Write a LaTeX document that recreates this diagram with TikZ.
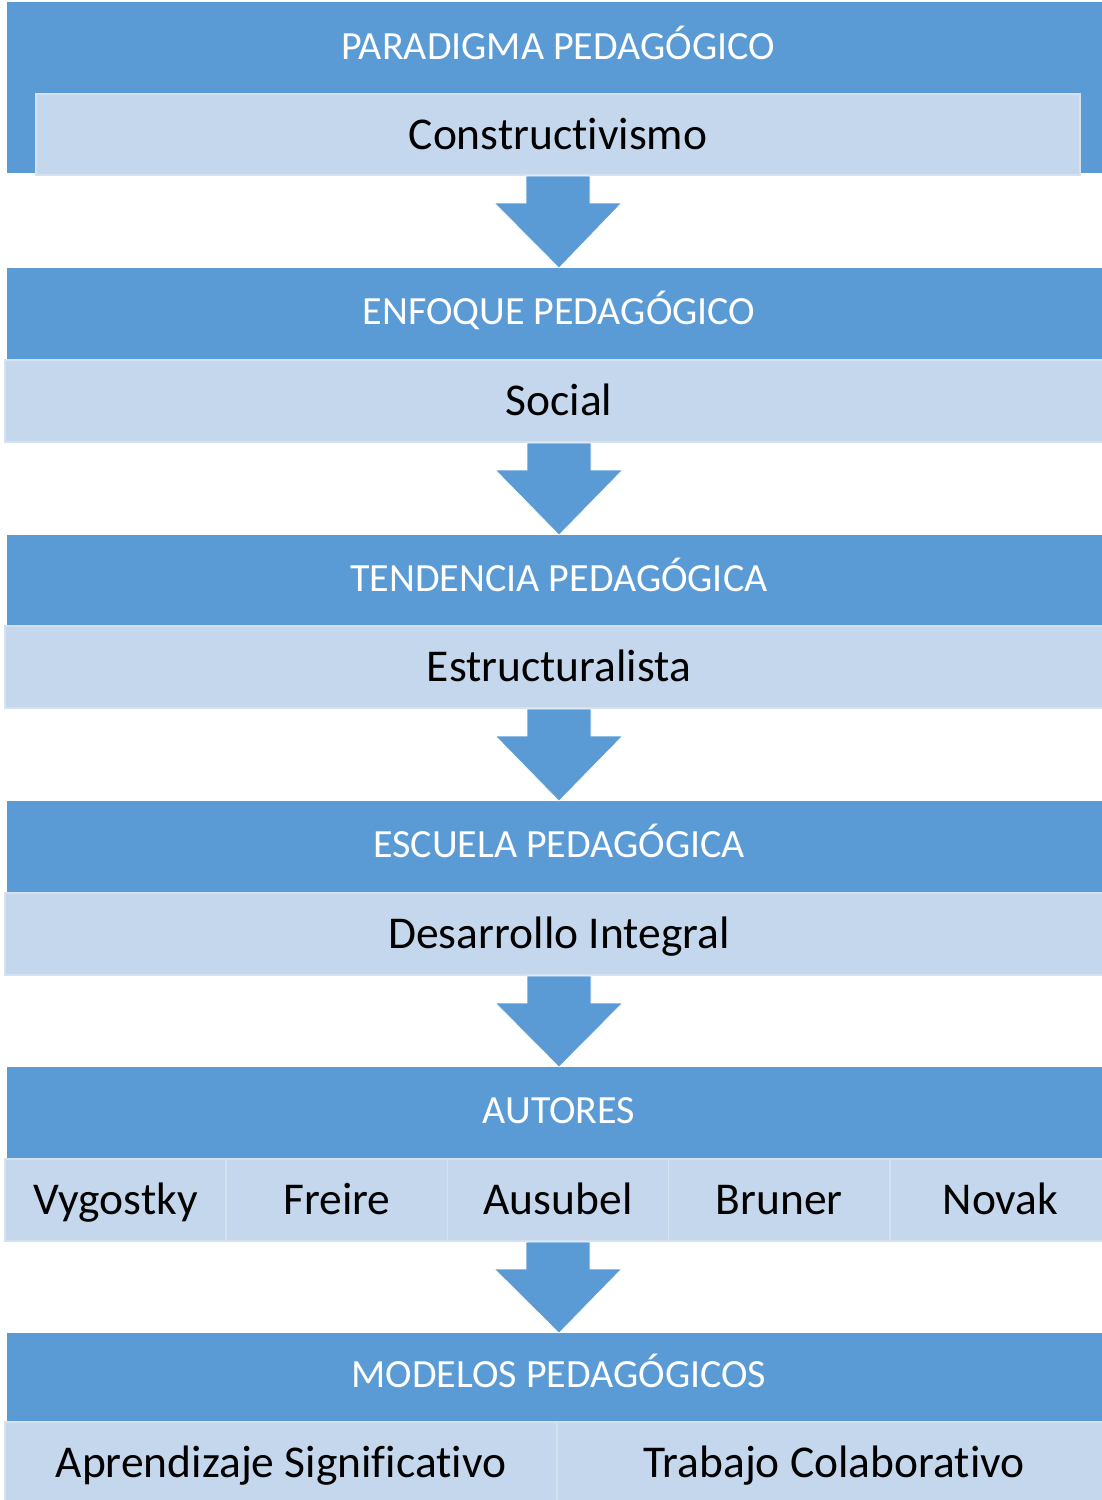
\documentclass[tikz,border=0pt]{standalone}
\usepackage{fontspec}
\setmainfont[RawFeature=-liga]{Carlito}
\usetikzlibrary{calc}
\definecolor{dkblue}{HTML}{5B9BD5}
\definecolor{ltblue}{HTML}{C5D7EC}
\definecolor{ltedge}{HTML}{D3E1F1}
\tikzset{
  hdr/.style={fill=dkblue, draw=none, inner sep=0pt, outer sep=0pt, anchor=north west,
    text=white, font=\fontsize{40}{44}\selectfont, text height=31pt, text depth=11pt},
  bodybox/.style={fill=ltblue, draw=ltedge, line width=1.5pt, inner sep=0pt, outer sep=0pt, anchor=north west,
    text=black, font=\fontsize{45.5}{52}\selectfont, text height=37pt, text depth=8pt},
  hdrtext/.style={text=white, font=\fontsize{40}{44}\selectfont, inner sep=0pt, anchor=base},
  blockarrow/.style={fill=dkblue, draw=white, line width=0.6pt},
}
\begin{document}
\begin{tikzpicture}[x=1pt,y=-1pt]
\useasboundingbox[fill=white] (0,0) rectangle (1101,1500);
% Block 1
\node[hdr, minimum width=1104, minimum height=171] (h1) at (7,2) {};
\node[hdrtext] (t1) at (558,59) {PARADIGMA PEDAGÓGICO};
\node[bodybox, minimum width=1044, minimum height=81] (b1) at (36,94) {Constructivismo};
% Block 2
\node[hdr, minimum width=1104, minimum height=92] (h2) at (7,268) {ENFOQUE PEDAGÓGICO};
\node[bodybox, minimum width=1108, minimum height=82] (b2) at (5,360) {Social};
% Block 3
\node[hdr, minimum width=1104, minimum height=92] (h3) at (7,535) {TENDENCIA PEDAGÓGICA};
\node[bodybox, minimum width=1108, minimum height=82] (b3) at (5,626) {Estructuralista};
% Block 4
\node[hdr, minimum width=1104, minimum height=92] (h4) at (7,801) {ESCUELA PEDAGÓGICA};
\node[bodybox, minimum width=1108, minimum height=82] (b4) at (5,893) {Desarrollo Integral};
% Block 5
\node[hdr, minimum width=1104, minimum height=92] (h5) at (7,1067) {AUTORES};
\node[bodybox, minimum width=221.2, minimum height=82] (a1) at (5,1159) {Vygostky};
\node[bodybox, minimum width=221.2, minimum height=82] (a2) at (226.2,1159) {Freire};
\node[bodybox, minimum width=221.2, minimum height=82] (a3) at (447.4,1159) {Ausubel};
\node[bodybox, minimum width=221.2, minimum height=82] (a4) at (668.6,1159) {Bruner};
\node[bodybox, minimum width=221.2, minimum height=82] (a5) at (889.8,1159) {Novak};
% Block 6
\node[hdr, minimum width=1104, minimum height=89] (h6) at (7,1333) {MODELOS PEDAGÓGICOS};
\node[bodybox, minimum width=552, minimum height=82] (m1) at (5,1422) {Aprendizaje Significativo};
\node[bodybox, minimum width=554, minimum height=82] (m2) at (557,1422) {Trabajo Colaborativo};
% Arrows
\foreach \s/\t in {b1/h2, b2/h3, b3/h4, b4/h5, a3/h6}{
  \filldraw[blockarrow]
    ($(\s.south)+(-32,1)$) -- ($(\s.south)+(32,1)$) -- ($(\s.south)+(32,28)$)
    -- ($(\s.south)+(63.5,28)$) -- (\t.north) -- ($(\s.south)+(-63.5,28)$)
    -- ($(\s.south)+(-32,28)$) -- cycle;
}
\end{tikzpicture}
\end{document}
